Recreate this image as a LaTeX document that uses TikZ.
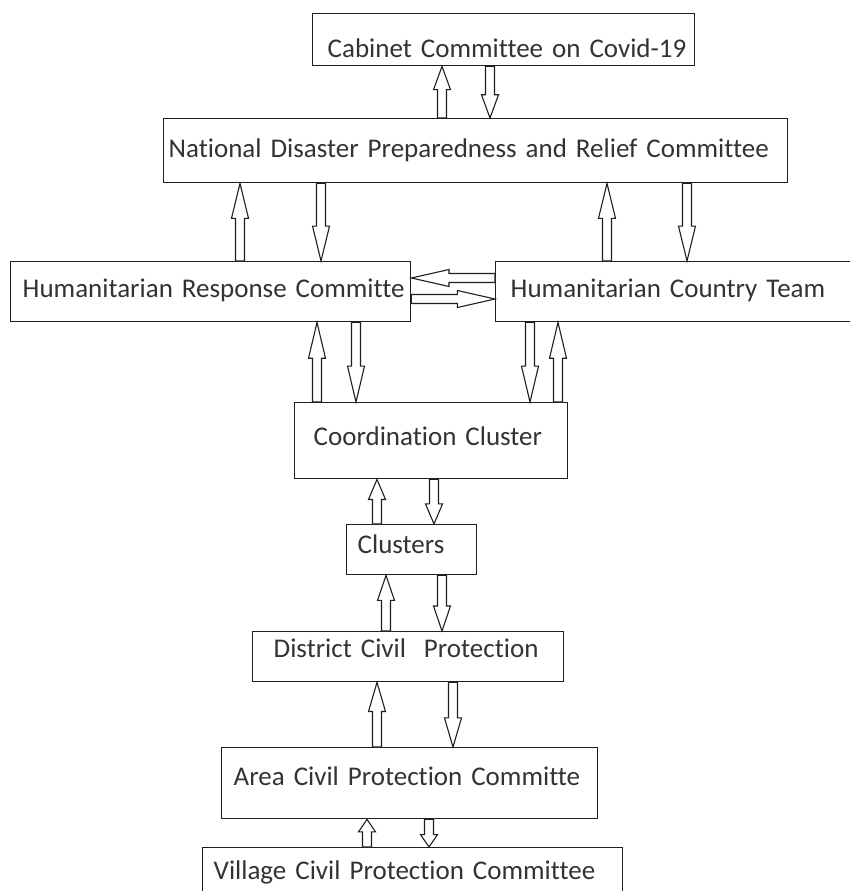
\documentclass[tikz,border=0pt]{standalone}
\usepackage{fontspec}
\setmainfont{Carlito}[Ligatures=NoCommon]
\usetikzlibrary{calc}

\tikzset{
	box/.style={draw=black!88, line width=1.4pt, fill=white, text=black!80,
		font=\fontsize{27pt}{32pt}\selectfont, align=left, inner xsep=0pt,
		inner ysep=0pt, anchor=north west},
	arrowline/.style={draw=black!88, line width=1.1pt, fill=white, line join=miter}
}

\newcommand{\blockarrow}[2]% base, tip
{\coordinate (neck) at ($(#2)!0.45!(#1)$);
 \draw[arrowline] ($(#1)!4.5pt!90:(#2)$) -- ($(neck)!4.5pt!-90:(#1)$) -- ($(neck)!8.5pt!-90:(#1)$) -- (#2)
	-- ($(neck)!8.5pt!90:(#1)$) -- ($(neck)!4.5pt!90:(#1)$) -- ($(#1)!4.5pt!-90:(#2)$) -- cycle;
}
\newcommand{\vblock}[3]% x, from, to
{\coordinate (ba-x) at (#1,0);
 \blockarrow{#2 -| ba-x}{#3 -| ba-x}
}
\newcommand{\hblock}[3]% y, from, to
{\coordinate (ba-y) at (0,#1);
 \blockarrow{#2 |- ba-y}{#3 |- ba-y}
}

\begin{document}
\begin{tikzpicture}[x=1pt, y=-1pt]
		\useasboundingbox (0,0) rectangle (849,891);
		%cajas
		\node[box, text width=382pt, text height=44pt, text depth=8pt] (cab) at (312,13) {\hspace*{15pt}Cabinet Committee on Covid-19};
		\node[box, text width=624pt, text height=39pt, text depth=25pt] (ndp) at (163,118) {\hspace*{5pt}National Disaster Preparedness and Relief Committee};
		\node[box, text width=400pt, text height=36pt, text depth=24pt] (hrc) at (10,261) {\hspace*{12pt}Humanitarian Response Committe};
		\node[box, text width=420pt, text height=36pt, text depth=24pt] (hct) at (495,261) {\hspace*{15pt}Humanitarian Country Team};
		\node[box, text width=273pt, text height=43pt, text depth=33pt] (coord) at (294,402) {\hspace*{19pt}Coordination Cluster};
		\node[box, text width=130pt, text height=29pt, text depth=21pt] (clus) at (346,524) {\hspace*{11pt}Clusters};
		\node[box, text width=311pt, text height=26pt, text depth=24pt] (dist) at (252,631) {\hspace*{21pt}District Civil\ \ Protection};
		\node[box, text width=376pt, text height=38pt, text depth=33pt] (area) at (221,747) {\hspace*{12pt}Area Civil Protection Committe};
		\node[box, text width=420pt, text height=32pt, text depth=38pt] (vill) at (202,847) {\hspace*{11pt}Village Civil Protection Committee};

		%flechas
		\vblock{442}{ndp.north}{cab.south}
		\vblock{490}{cab.south}{ndp.north}
		\vblock{240}{hrc.north}{ndp.south}
		\vblock{321}{ndp.south}{hrc.north}
		\vblock{607}{hct.north}{ndp.south}
		\vblock{687}{ndp.south}{hct.north}
		\hblock{278}{hct.west}{hrc.east}
		\hblock{299}{hrc.east}{hct.west}
		\vblock{317}{coord.north}{hrc.south}
		\vblock{356}{hrc.south}{coord.north}
		\vblock{530}{hct.south}{coord.north}
		\vblock{558}{coord.north}{hct.south}
		\vblock{377}{clus.north}{coord.south}
		\vblock{434}{coord.south}{clus.north}
		\vblock{386}{dist.north}{clus.south}
		\vblock{442}{clus.south}{dist.north}
		\vblock{377}{area.north}{dist.south}
		\vblock{453}{dist.south}{area.north}
		\vblock{367}{vill.north}{area.south}
		\vblock{429}{area.south}{vill.north}
	\end{tikzpicture}
\end{document}
